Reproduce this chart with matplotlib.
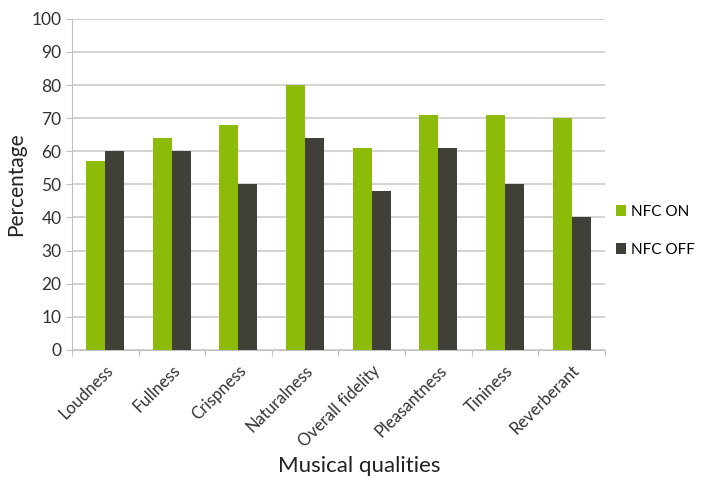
import numpy as np
import matplotlib
matplotlib.use("Agg")
import matplotlib.pyplot as plt

plt.rcParams['font.family'] = ['Lato', 'DejaVu Sans']

qualities = ['Loudness', 'Fullness', 'Crispness', 'Naturalness',
             'Overall fidelity', 'Pleasantness', 'Tininess', 'Reverberant']
nfc_on = [57, 64, 68, 80, 61, 71, 71, 70]
nfc_off = [60, 60, 50, 64, 48, 61, 50, 40]

green = '#8cbb0a'
dark = '#404039'

fig = plt.figure(figsize=(7.05, 4.82), dpi=100)
ax = fig.add_axes([0.102, 0.274, 0.756, 0.687])

x = np.arange(len(qualities))
w = 0.285
ax.bar(x - w / 2, nfc_on, w, color=green, label='NFC ON', zorder=3)
ax.bar(x + w / 2, nfc_off, w, color=dark, label='NFC OFF', zorder=3)

ax.set_xlim(-0.5, len(qualities) - 0.5)
ax.set_ylim(0, 100)
ax.set_yticks(range(0, 101, 10))
ax.yaxis.grid(True, color='#d0d0d0', linewidth=1.3, zorder=0)

# ticks sit between the categories, labels at the centres
ax.set_xticks(np.arange(-0.5, len(qualities), 1.0))
ax.set_xticklabels([])
ax.set_xticks(x, minor=True)
ax.set_xticklabels(qualities, minor=True, rotation=45, ha='right',
                   rotation_mode='anchor', fontsize=12, color='#333333')
ax.tick_params(axis='x', which='minor', length=0, pad=9)
ax.tick_params(axis='x', which='major', length=4, color='#c0c0c0')
ax.tick_params(axis='y', length=4, color='#c0c0c0', labelsize=12.5,
               labelcolor='#333333')

for side in ['top', 'right']:
    ax.spines[side].set_visible(False)
for side in ['left', 'bottom']:
    ax.spines[side].set_color('#c0c0c0')

ax.set_ylabel('Percentage', fontsize=15, color='#222222', labelpad=4)
ax.set_xlabel('Musical qualities', fontsize=16, color='#222222')
ax.xaxis.set_label_coords(0.54, -0.32)

ax.legend(loc='center left', bbox_to_anchor=(1.0, 0.36), frameon=False,
          fontsize=11, handlelength=0.7, handleheight=0.7, handletextpad=0.3,
          labelspacing=1.6, borderaxespad=0.3)

fig.savefig('out.png', dpi=100)
